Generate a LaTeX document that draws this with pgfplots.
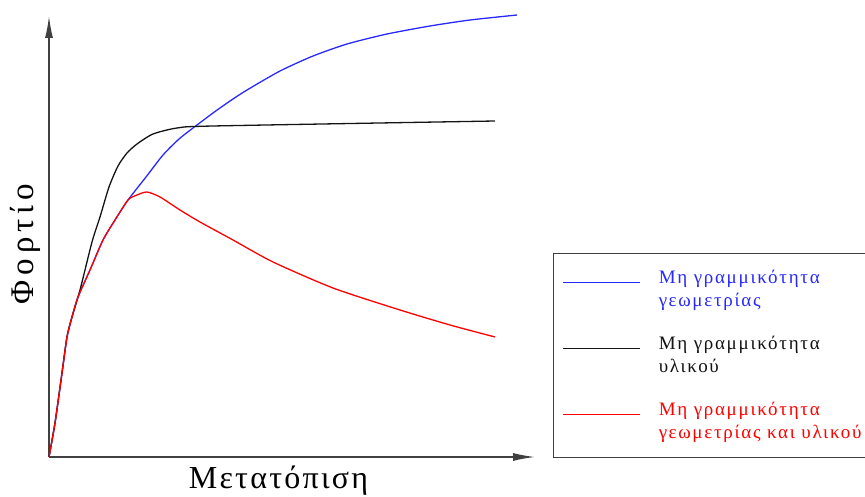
\documentclass[border=0pt]{standalone}
\usepackage{fontspec}
\setmainfont{Liberation Serif}
\newfontfamily\lsleg[LetterSpace=9]{Liberation Serif}
\newfontfamily\lsx[LetterSpace=7]{Liberation Serif}
\newfontfamily\lsy[LetterSpace=15]{Liberation Serif}
\usepackage{pgfplots}
\pgfplotsset{compat=1.18}
\usetikzlibrary{arrows.meta}
\definecolor{lblue}{RGB}{40,40,255}
\definecolor{lred}{RGB}{255,0,0}
\definecolor{lblack}{RGB}{20,20,20}
\definecolor{axgray}{RGB}{64,64,64}
\newcommand{\lt}[3]{\parbox[t]{198bp}{\color{#1}\rule{0pt}{15bp}\mbox{#2}\\\mbox{#3}\rule[-5bp]{0pt}{5bp}}}
\begin{document}
\begin{tikzpicture}
\begin{axis}[
  x=1bp, y=1bp, xmin=0, xmax=486, ymin=0, ymax=441,
  axis lines=left, ticks=none, clip=false,
  axis line style={draw=axgray, line width=1.4bp, -{Latex[length=22bp,width=8bp]}},
  xlabel={Μετατόπιση}, ylabel={Φορτίο},
  every axis x label/.style={at={(axis cs:229.5,-31)}, anchor=base, font=\lsx\fontsize{32bp}{38bp}\selectfont},
  every axis y label/.style={at={(axis cs:-16,213)}, anchor=base, rotate=90, font=\lsy\fontsize{33bp}{40bp}\selectfont},
  legend style={at={(1.03704,0.46259)}, anchor=north west, draw=axgray, line width=1bp,
    inner xsep=9bp, inner ysep=14bp, row sep=22.5bp, column sep=18bp,
    nodes={inner sep=0pt, text depth=}, cells={anchor=base west},
    font=\lsleg\fontsize{19bp}{23bp}\selectfont},
  legend image code/.code={\path (0bp,0bp); \draw[#1] (0bp,-14.3bp) -- (77bp,-14.3bp);},
]
\addplot[lblue, line width=1.3bp, smooth, tension=0.4] coordinates {
(0,0) (6,34) (13,84) (18,120) (23,140) (29,160) (41,187) (54,217) (66,237) (79,257)
(97,280) (114,302) (130,318) (144,329) (164,344) (181,356) (198,367) (231,386)
(264,401) (298,413) (338,423) (381,431) (421,437) (468,442)};
\addlegendentry{\lt{lblue}{Μη γραμμικότητα}{γεωμετρίας}}
\addplot[lblack, line width=1.3bp, smooth, tension=0.4] coordinates {
(0,0) (6,34) (13,84) (18,120) (23,140) (31,167) (43,215) (51,240) (60,270) (69,291)
(78,304) (88,313) (104,323) (128,329) (164,331) (446,336)};
\addlegendentry{\lt{lblack}{Μη γραμμικότητα}{υλικού}}
\addplot[lred, line width=1.3bp, smooth, tension=0.4] coordinates {
(0,0) (6,34) (13,84) (18,120) (23,140) (29,160) (41,187) (54,217) (66,237) (79,257)
(88,262) (98,265) (111,260) (131,247) (151,235) (184,217) (224,195) (284,169)
(351,147) (401,132) (446,120)};
\addlegendentry{\lt{lred}{Μη γραμμικότητα}{γεωμετρίας και υλικού}}
\end{axis}
\pgfresetboundingbox
\useasboundingbox (-49bp,-40bp) rectangle (816bp,457bp);
\end{tikzpicture}
\end{document}
